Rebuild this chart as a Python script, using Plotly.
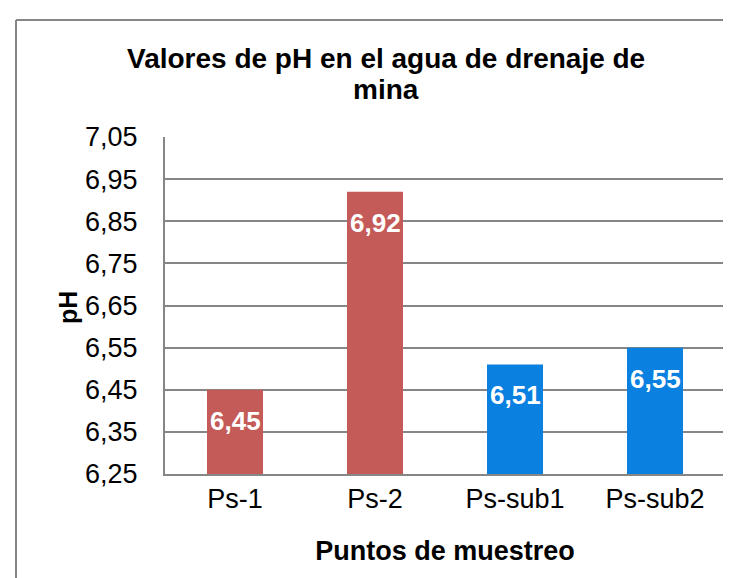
import plotly.graph_objects as go

categories = ["Ps-1", "Ps-2", "Ps-sub1", "Ps-sub2"]
ph_values = [6.45, 6.92, 6.51, 6.55]
bar_colors = ["#C55B58", "#C55B58", "#0A80E0", "#0A80E0"]
y_ticks = [6.25, 6.35, 6.45, 6.55, 6.65, 6.75, 6.85, 6.95, 7.05]
title_lines = ["Valores de pH en el agua de drenaje de", "mina"]

W, H = 731, 578
L, R, T, B = 157, 717, 129, 466
FONT = "Liberation Sans, Arial"

def px_x(x):
    return (x - L) / (R - L)

def px_y(y):
    return (B - y) / (B - T)

fig = go.Figure()
fig.add_trace(go.Bar(
    x=categories, y=[v - 6.25 for v in ph_values], base=6.25,
    marker=dict(color=bar_colors, line=dict(width=0)),
    width=0.4, textposition="none", hoverinfo="skip",
))

label_annotations = [
    dict(x=c, y=v, xref="x", yref="y", text=f"<b>{v:.2f}</b>".replace(".", ","),
         showarrow=False, yanchor="middle", yshift=-31,
         font=dict(family=FONT, size=26, color="white"))
    for c, v in zip(categories, ph_values)
]

title_annotations = [
    dict(text=f"<b>{line}</b>", xref="paper", yref="paper",
         x=px_x(378), y=px_y(yc), xanchor="center", yanchor="middle",
         showarrow=False, font=dict(size=28, color="black", family=FONT))
    for line, yc in zip(title_lines, [50, 82])
]

gray = "#868686"
fig.update_layout(
    width=W, height=H,
    margin=dict(l=L, r=W - R, t=T, b=H - B, pad=0),
    paper_bgcolor="white", plot_bgcolor="white",
    separators=",.",
    showlegend=False,
    font=dict(family=FONT, color="black"),
    xaxis=dict(showline=True, linecolor=gray, linewidth=2, ticks="",
               tickfont=dict(size=27), showgrid=False,
               title=dict(text="<b>Puntos de muestreo</b>", font=dict(size=27), standoff=28)),
    yaxis=dict(range=[6.25, 7.05], tickvals=y_ticks, tickformat=".2f",
               showline=True, linecolor=gray, linewidth=2, ticks="",
               showgrid=True, gridcolor=gray, gridwidth=2,
               tickfont=dict(size=27), ticklabelstandoff=20, zeroline=False),
    shapes=[
        dict(type="line", xref="paper", yref="paper",
             x0=px_x(8), x1=px_x(760), y0=px_y(12), y1=px_y(12),
             line=dict(color=gray, width=2)),
        dict(type="line", xref="paper", yref="paper",
             x0=px_x(8), x1=px_x(8), y0=px_y(12), y1=px_y(600),
             line=dict(color=gray, width=2)),
    ],
    annotations=title_annotations + [
        dict(text="<b>pH</b>", textangle=-90, xref="paper", yref="paper",
             x=px_x(60), y=px_y(300), xanchor="center", yanchor="middle",
             showarrow=False, font=dict(size=25, color="black", family=FONT)),
    ] + label_annotations,
)

fig.write_html("out.html")
